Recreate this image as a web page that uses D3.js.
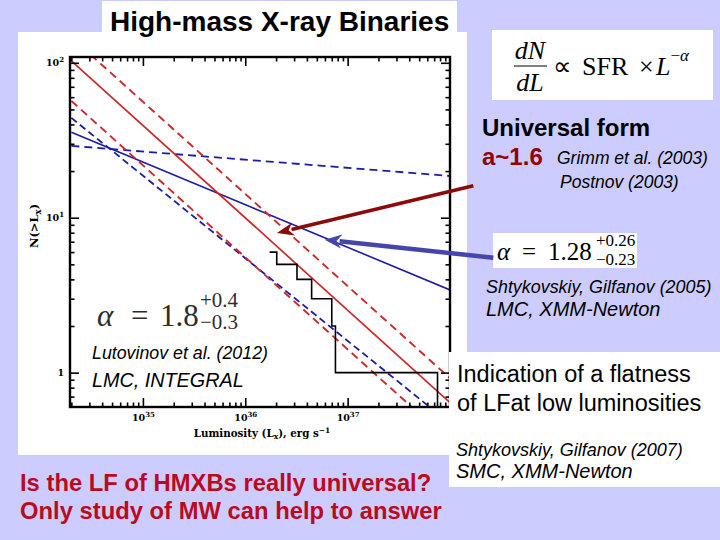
<!DOCTYPE html>
<html><head><meta charset="utf-8">
<script src="https://cdn.jsdelivr.net/npm/d3@7"></script>
<style>html,body{margin:0;padding:0;background:#ccccff;} svg{display:block;}</style>
</head><body>
<svg id="c" width="720" height="540"></svg>
<script>
// ---------- data ----------
const lumEnds = [2e34, 1e38];                 // luminosity at the two ends of each power-law line
const redSolidN = [103, 0.64];                 // alpha ~1.6 universal form
const redDashUpperN = [146, 0.92];
const redDashLowerN = [56.7, 0.36];
const blueSolidN = [35.6, 3.42];               // alpha = 1.28
const blueDashSteepN = [44.1, 0.47];
const blueDashFlatN = [29.1, 18.6];
const stepLum = [1.73e36, 2.03e36, 3.2e36, 4.45e36, 7.0e36, 7.6e36, 7.55e37];
const stepCount = [6, 5, 4, 3, 2, 1, 0];
const xMajorExps = [35, 36, 37];
const yMajorVals = [1, 10, 100];
const yMajorLabels = [["1",""], ["10","1"], ["10","2"]];
const redArrowLN = [[1.69e38, 16.1], [2.04e36, 7.96]];
const blueArrowLN = [[2.65e38, 5.52], [5.97e36, 7.21]];

// ---------- layout ----------
const svg = d3.select("#c");
const P = {l:70, r:450, t:57, b:407};
const x = d3.scaleLog().domain([1.94e34, 1e38]).range([P.l, P.r]);
const y = d3.scaleLog().domain([0.6, 109]).range([P.b, P.t]);

svg.append("rect").attr("width",720).attr("height",540).attr("fill","#ccccff");
// chart panel + title box
svg.append("rect").attr("x",18).attr("y",32).attr("width",449).attr("height",423).attr("fill","#fff");
svg.append("rect").attr("x",102).attr("y",1).attr("width",355).attr("height",33).attr("fill","#fff");
svg.append("text").attr("x",110).attr("y",31).attr("font-family","Liberation Sans, Arial, sans-serif")
  .attr("font-weight","bold").attr("font-size",28).attr("fill","#000").text("High-mass X-ray Binaries");

svg.append("clipPath").attr("id","pc").append("rect")
  .attr("x",P.l).attr("y",P.t).attr("width",P.r-P.l).attr("height",P.b-P.t);
const g = svg.append("g");
const plot = g.append("g").attr("clip-path","url(#pc)");

const line = d3.line().x(d=>x(d[0])).y(d=>y(d[1]));
const series = [
  {n: blueDashFlatN, c:"#1c1ca6", dash:"8,5", w:1.8},
  {n: blueDashSteepN, c:"#1c1ca6", dash:"7,4", w:1.8},
  {n: blueSolidN, c:"#1c1ca6", dash:null, w:1.6},
  {n: redDashUpperN, c:"#cc2a2a", dash:"8,5", w:1.9},
  {n: redDashLowerN, c:"#cc2a2a", dash:"8,5", w:1.9},
  {n: redSolidN, c:"#cc2a2a", dash:null, w:1.7},
];
series.forEach(s=>{
  plot.append("path").datum(lumEnds.map((L,i)=>[L, s.n[i]]))
    .attr("d", line).attr("fill","none").attr("stroke", s.c)
    .attr("stroke-width", s.w).attr("stroke-dasharray", s.dash);
});
// step histogram
const stepLine = d3.line().curve(d3.curveStepAfter)
  .x(d=>x(d[0])).y(d=> d[1] > 0 ? y(d[1]) : P.b + 5);
plot.append("path").datum(stepLum.map((L,i)=>[L, stepCount[i]]))
  .attr("d", stepLine).attr("fill","none").attr("stroke","#000").attr("stroke-width",1.6);

// ---------- axes ----------
const xMinor = [], yMinor = [];
for (let e=34; e<=37; e++) for (let k=2;k<=9;k++){ const v=k*Math.pow(10,e); if (v>x.domain()[0]*1.01 && v<x.domain()[1]*0.99) xMinor.push(v); }
for (let e=-1; e<=2; e++) for (let k=2;k<=9;k++){ const v=k*Math.pow(10,e); if (v>y.domain()[0]*1.02 && v<y.domain()[1]*0.99) yMinor.push(v); }
const xMajor = xMajorExps.map(e=>Math.pow(10,e));
const axFont = "DejaVu Serif, Liberation Serif, serif";

function styleAxis(sel){ sel.select(".domain").remove(); sel.selectAll("line").attr("stroke","#000").attr("stroke-width",1.6); }
const bottomMaj = g.append("g").attr("transform",`translate(0,${P.b})`)
  .call(d3.axisBottom(x).tickValues(xMajor).tickSize(-9).tickPadding(7));
styleAxis(bottomMaj);
bottomMaj.selectAll("text").each(function(d){
  const t=d3.select(this); t.text(null).attr("font-family",axFont).attr("font-weight","bold").attr("font-size",9.5).attr("fill","#000");
  t.append("tspan").text("10");
  t.append("tspan").attr("dy",-4).attr("font-size",7).text(Math.round(Math.log10(d)));
});
g.append("g").attr("transform",`translate(0,${P.b})`).call(d3.axisBottom(x).tickValues(xMinor).tickSize(-4.5).tickFormat("")).call(styleAxis);
g.append("g").attr("transform",`translate(0,${P.t})`).call(d3.axisTop(x).tickValues(xMajor).tickSize(-9).tickFormat("")).call(styleAxis);
g.append("g").attr("transform",`translate(0,${P.t})`).call(d3.axisTop(x).tickValues(xMinor).tickSize(-4.5).tickFormat("")).call(styleAxis);

const leftMaj = g.append("g").attr("transform",`translate(${P.l},0)`)
  .call(d3.axisLeft(y).tickValues(yMajorVals).tickSize(-9).tickPadding(6));
styleAxis(leftMaj);
leftMaj.selectAll("text").each(function(d,i){
  const t=d3.select(this); t.text(null).attr("font-family",axFont).attr("font-weight","bold").attr("font-size",9.5).attr("fill","#000");
  const lab = yMajorLabels[i];
  t.append("tspan").text(lab[0]);
  if (lab[1]) t.append("tspan").attr("dy",-4).attr("font-size",7).text(lab[1]);
});
g.append("g").attr("transform",`translate(${P.l},0)`).call(d3.axisLeft(y).tickValues(yMinor).tickSize(-4.5).tickFormat("")).call(styleAxis);
g.append("g").attr("transform",`translate(${P.r},0)`).call(d3.axisRight(y).tickValues(yMajorVals).tickSize(-9).tickFormat("")).call(styleAxis);
g.append("g").attr("transform",`translate(${P.r},0)`).call(d3.axisRight(y).tickValues(yMinor).tickSize(-4.5).tickFormat("")).call(styleAxis);

g.append("rect").attr("x",P.l).attr("y",P.t).attr("width",P.r-P.l).attr("height",P.b-P.t)
  .attr("fill","none").attr("stroke","#000").attr("stroke-width",2.4);

// axis titles
const xl = g.append("text").attr("x",262).attr("y",437).attr("text-anchor","middle")
  .attr("font-family",axFont).attr("font-weight","bold").attr("font-size",10.3).attr("fill","#000");
xl.append("tspan").text("Luminosity (L");
xl.append("tspan").attr("dy",2).attr("font-size",7.5).text("x");
xl.append("tspan").attr("dy",-2).text("), erg s");
xl.append("tspan").attr("dy",-4).attr("font-size",7.5).text("−1");
const yl = g.append("text").attr("transform","translate(38,226) rotate(-90)").attr("text-anchor","middle")
  .attr("font-family",axFont).attr("font-weight","bold").attr("font-size",11.5).attr("fill","#000");
yl.append("tspan").text("N(>L");
yl.append("tspan").attr("dy",2.5).attr("font-size",8.5).text("x");
yl.append("tspan").attr("dy",-2.5).text(")");

// alpha = 1.8 formula and Lutovinov labels inside plot
const serif = "Liberation Serif, Times New Roman, serif";
const a18 = g.append("text").attr("y",326).attr("font-family",serif).attr("font-size",31).attr("fill","#332b2b");
a18.append("tspan").attr("x",97).attr("font-style","italic").text("α");
a18.append("tspan").attr("x",131).text("=");
a18.append("tspan").attr("x",160).text("1.8");
g.append("text").attr("x",200).attr("y",307).attr("font-family",serif).attr("font-size",21).attr("fill","#332b2b").text("+0.4");
g.append("text").attr("x",200).attr("y",329).attr("font-family",serif).attr("font-size",21).attr("fill","#332b2b").text("−0.3");
const sans = "Liberation Sans, Arial, sans-serif";
g.append("text").attr("x",92).attr("y",359).attr("font-family",sans).attr("font-style","italic").attr("font-size",17.8).attr("fill","#000").text("Lutovinov et al. (2012)");
g.append("text").attr("x",92).attr("y",387).attr("font-family",sans).attr("font-style","italic").attr("font-size",19.8).attr("fill","#000").text("LMC, INTEGRAL");

// ---------- right side annotations ----------
svg.append("rect").attr("x",492).attr("y",30).attr("width",221).attr("height",70).attr("fill","#fff");
const fs = 26;
svg.append("text").attr("x",530).attr("y",59).attr("text-anchor","middle").attr("font-family",serif).attr("font-style","italic").attr("font-size",fs).text("dN");
svg.append("line").attr("x1",514).attr("x2",547).attr("y1",66).attr("y2",66).attr("stroke","#000").attr("stroke-width",1.2);
svg.append("text").attr("x",530).attr("y",91).attr("text-anchor","middle").attr("font-family",serif).attr("font-style","italic").attr("font-size",fs).text("dL");
const f2 = svg.append("text").attr("y",75).attr("font-family",serif).attr("font-size",fs);
f2.append("tspan").attr("x",553).text("∝");
f2.append("tspan").attr("x",582).text("SFR");
f2.append("tspan").attr("x",639).text("×");
f2.append("tspan").attr("x",656).attr("font-style","italic").text("L");
f2.append("tspan").attr("dy",-14).attr("font-size",17).text("−");
f2.append("tspan").attr("font-size",17).attr("font-style","italic").text("α");

svg.append("text").attr("x",482).attr("y",136).attr("font-family",sans).attr("font-weight","bold").attr("font-size",24).attr("fill","#000").text("Universal form");
svg.append("text").attr("x",482).attr("y",165).attr("font-family",sans).attr("font-weight","bold").attr("font-size",24).attr("fill","#960000").text("a~1.6");
svg.append("text").attr("x",557).attr("y",164).attr("font-family",sans).attr("font-style","italic").attr("font-size",17.5).attr("fill","#000").text("Grimm et al. (2003)");
svg.append("text").attr("x",560).attr("y",188).attr("font-family",sans).attr("font-style","italic").attr("font-size",17.5).attr("fill","#000").text("Postnov (2003)");

svg.append("rect").attr("x",493).attr("y",233).attr("width",144).attr("height",35).attr("fill","#fff");
const a128 = svg.append("text").attr("y",260).attr("font-family",serif).attr("font-size",25).attr("fill","#000");
a128.append("tspan").attr("x",497).attr("font-style","italic").text("α");
a128.append("tspan").attr("x",522).text("=");
a128.append("tspan").attr("x",548).text("1.28");
svg.append("text").attr("x",596).attr("y",246).attr("font-family",serif).attr("font-size",17).text("+0.26");
svg.append("text").attr("x",596).attr("y",265).attr("font-family",serif).attr("font-size",17).text("−0.23");

svg.append("text").attr("x",486).attr("y",293).attr("font-family",sans).attr("font-style","italic").attr("font-size",17.9).attr("fill","#000").text("Shtykovskiy, Gilfanov (2005)");
svg.append("text").attr("x",486).attr("y",316).attr("font-family",sans).attr("font-style","italic").attr("font-size",20).attr("fill","#000").text("LMC, XMM-Newton");

svg.append("rect").attr("x",449).attr("y",352).attr("width",271).attr("height",135).attr("fill","#fff");
svg.append("text").attr("x",457).attr("y",382).attr("font-family",sans).attr("font-size",23.5).attr("fill","#000").text("Indication of a flatness");
svg.append("text").attr("x",457).attr("y",411).attr("font-family",sans).attr("font-size",23.5).attr("fill","#000").text("of LFat low luminosities");
svg.append("text").attr("x",456).attr("y",456).attr("font-family",sans).attr("font-style","italic").attr("font-size",18).attr("fill","#000").text("Shtykovskiy, Gilfanov (2007)");
svg.append("text").attr("x",456).attr("y",478).attr("font-family",sans).attr("font-style","italic").attr("font-size",20).attr("fill","#000").text("SMC, XMM-Newton");

svg.append("text").attr("x",20).attr("y",491).attr("font-family",sans).attr("font-weight","bold").attr("font-size",23.8).attr("fill","#bb0a1e").text("Is the LF of HMXBs really universal?");
svg.append("text").attr("x",20).attr("y",519).attr("font-family",sans).attr("font-weight","bold").attr("font-size",23.8).attr("fill","#bb0a1e").text("Only study of MW can help to answer");

// ---------- arrows ----------
function arrow(pts, color, w, hl, hw){
  const [p0, p1] = pts.map(d=>[x(d[0]), y(d[1])]);
  const dx=p1[0]-p0[0], dy=p1[1]-p0[1], len=Math.hypot(dx,dy), ux=dx/len, uy=dy/len;
  const bx=p1[0]-ux*hl, by=p1[1]-uy*hl;
  svg.append("line").attr("x1",p0[0]).attr("y1",p0[1]).attr("x2",bx+ux*2).attr("y2",by+uy*2)
    .attr("stroke",color).attr("stroke-width",w);
  svg.append("path").attr("d",`M${p1[0]},${p1[1]} L${bx - uy*hw/2},${by + ux*hw/2} L${bx+ux*hl*0.3},${by+uy*hl*0.3} L${bx + uy*hw/2},${by - ux*hw/2} Z`)
    .attr("fill",color);
}
arrow(redArrowLN, "#8c0a0a", 3.5, 17, 13);
arrow(blueArrowLN, "#4646aa", 4.5, 17, 14);
</script>
</body></html>
